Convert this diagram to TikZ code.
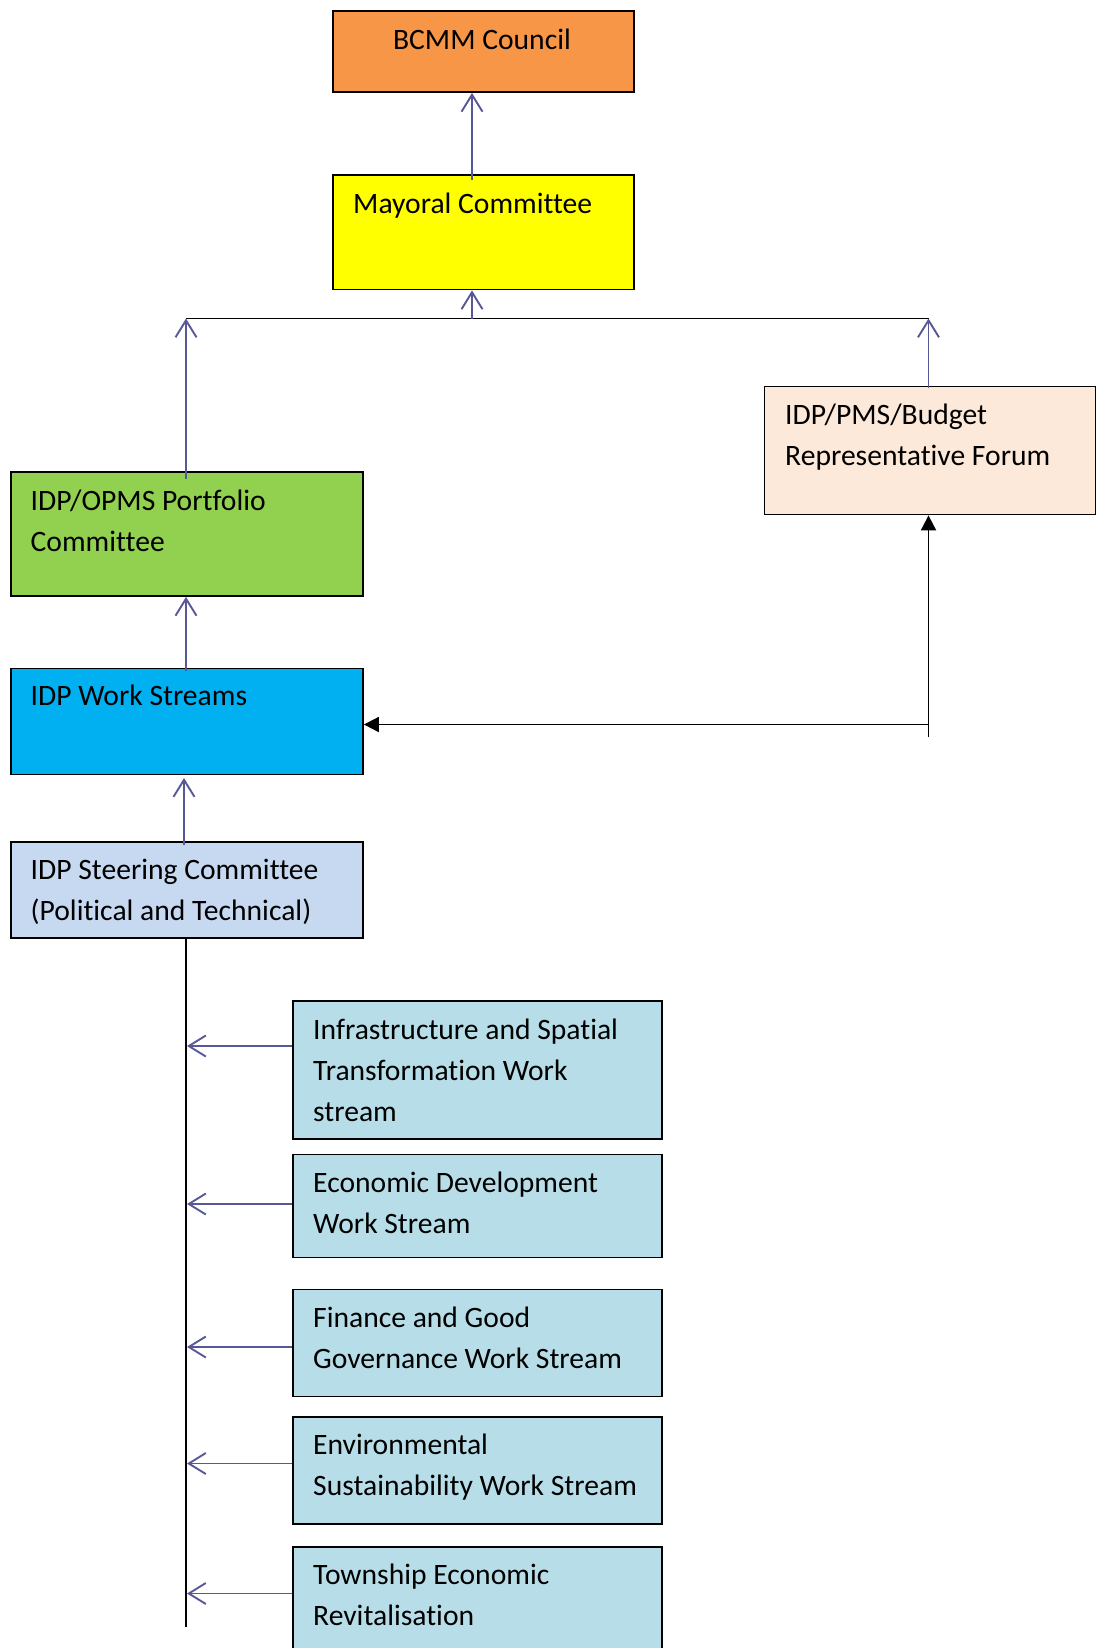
\documentclass[tikz,border=0pt]{standalone}
\usepackage{fontspec}
\setmainfont[Ligatures=NoCommon]{Carlito}
\usetikzlibrary{arrows.meta}
\definecolor{councilfill}{HTML}{F79646}
\definecolor{mayorfill}{HTML}{FFFF00}
\definecolor{forumfill}{HTML}{FDE9D9}
\definecolor{portfill}{HTML}{92D050}
\definecolor{wsfill}{HTML}{00B0F0}
\definecolor{steerfill}{HTML}{C6D9F1}
\definecolor{streamfill}{HTML}{B7DEE8}
\definecolor{flow}{RGB}{88,88,150}
\tikzset{
  box/.style={draw=black, line width=1.9pt, rectangle, inner sep=0pt, anchor=north west},
  % labels are placed by the baseline of their last line
  lbl/.style={anchor=base west, inner sep=0pt, align=left,
    font=\fontsize{29.6}{41}\selectfont},
  up/.style={draw=flow, line width=1.9pt, -{Straight Barb[length=17pt,width=21pt,line width=1.9pt]}},
  link/.style={draw=black, line width=1.9pt},
  feed/.style={draw=black, line width=1.9pt, -{Triangle[length=15pt,width=15pt]}}
}
\begin{document}
\begin{tikzpicture}[x=1pt,y=-1pt]
\useasboundingbox (0,0) rectangle (1096,1648);

% boxes
\node[box, fill=councilfill, minimum width=301pt, minimum height=81pt] (council) at (332,10) {};
\node[anchor=base, inner sep=0pt, font=\fontsize{29.6}{41}\selectfont] (councilT) at (482,49.5) {BCMM Council};

\node[box, fill=mayorfill, minimum width=301pt, minimum height=114pt] (mayor) at (332,174.5) {};
\node[lbl] (mayorT) at (353,213.5) {Mayoral Committee};

\node[box, fill=forumfill, minimum width=331pt, minimum height=128pt] (forum) at (763.5,385.5) {};
\node[lbl] (forumT) at (785,465) {IDP/PMS/Budget\\Representative Forum};

\node[box, fill=portfill, minimum width=352pt, minimum height=124pt] (port) at (10,471) {};
\node[lbl] (portT) at (30.5,551.5) {IDP/OPMS Portfolio\\Committee};

\node[box, fill=wsfill, minimum width=352pt, minimum height=106pt] (ws) at (10,667.5) {};
\node[lbl] (wsT) at (30.5,705) {IDP Work Streams};

\node[box, fill=steerfill, minimum width=352pt, minimum height=96pt] (steer) at (10,841) {};
\node[lbl] (steerT) at (30.5,920.5) {IDP Steering Committee\\(Political and Technical)};

\node[box, fill=streamfill, minimum width=369pt, minimum height=138pt] (infra) at (292,1000) {};
\node[lbl] (infraT) at (313,1121.5) {Infrastructure and Spatial\\Transformation Work\\stream};

\node[box, fill=streamfill, minimum width=369pt, minimum height=103pt] (econ) at (292,1153.5) {};
\node[lbl] (econT) at (313,1233) {Economic Development\\Work Stream};

\node[box, fill=streamfill, minimum width=369pt, minimum height=107pt] (fin) at (292,1288.5) {};
\node[lbl] (finT) at (313,1368.5) {Finance and Good\\Governance Work Stream};

\node[box, fill=streamfill, minimum width=369pt, minimum height=107pt] (env) at (292,1416) {};
\node[lbl] (envT) at (313,1495.5) {Environmental\\Sustainability Work Stream};

\node[box, fill=streamfill, minimum width=369pt, minimum height=130pt] (town) at (292,1546) {};
\node[lbl] (townT) at (313,1625.5) {Township Economic\\Revitalisation};

% junction line under the Mayoral Committee
\coordinate (barL) at (186,318.5);
\coordinate (barR) at (928.5,318.5);
\coordinate (barM) at (472,318.5);
\draw[link] (barL) -- (barR);

% upward reporting lines
\draw[up] (mayor.north -| barM) ++(0,6) -- (council.south -| barM);
\draw[up] (barM) -- (mayor.south -| barM);
\draw[up] (port.north -| barL) ++(0,8) -- (barL);
\draw[up] (forum.north -| barR) ++(0,2) -- (barR);
\draw[up] (ws.north -| barL) ++(0,3) -- (port.south -| barL);
\coordinate (stUp) at (184,845);
\draw[up] (stUp) -- (184,778);

% forum feedback loop
\coordinate (loopEnd) at (928.5,737);
\coordinate (loopKnee) at (928.5,724.5);
\draw[feed] (loopEnd) -- (forum.south -| loopEnd);
\draw[feed] (loopKnee) -- (ws.east |- loopKnee);

% spine from the Steering Committee
\coordinate (spineTop) at (186,936);
\coordinate (spineEnd) at (186,1627);
\draw[link] (steer.south -| spineTop) -- (spineEnd);

% work stream inputs
\foreach \b/\y in {infra/1046, econ/1204, fin/1347, env/1463.5, town/1593.5}{
  \draw[up] (\b.west |- 0,\y) -- (187,\y);
}
\end{tikzpicture}
\end{document}
